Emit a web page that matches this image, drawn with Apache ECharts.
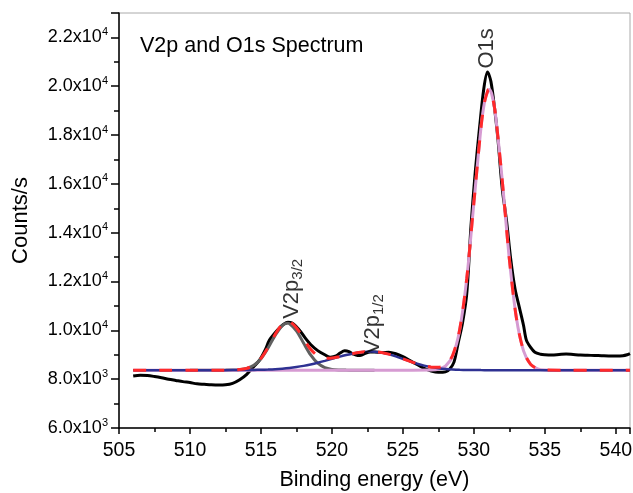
<!DOCTYPE html>
<html><head><meta charset="utf-8">
<script src="https://cdn.jsdelivr.net/npm/echarts@6/dist/echarts.min.js"></script>
<style>html,body{margin:0;padding:0;background:#fff}#c{width:633px;height:493px}</style>
</head><body><div id="c"></div>
<script>
// Measured spectrum (black)
const dataX = [506,506.5,507,507.5,508,508.5,509,509.5,510,510.5,511,511.5,512,512.5,513,513.5,514,514.5,514.9,515.3,515.6,516,516.3,516.6,516.9,517.2,517.5,517.8,518.1,518.5,519,519.5,519.9,520.3,520.6,520.9,521.2,521.5,521.8,522.1,522.4,522.7,523,523.5,524,524.5,525,525.5,526,526.5,527,527.5,528,528.3,528.6,528.9,529.2,529.5,529.8,530.1,530.4,530.7,530.96,531.2,531.5,531.7,532,532.3,532.6,532.9,533.2,533.5,533.7,534,534.3,534.7,535,535.5,536,536.5,537,537.5,538,538.5,539,539.5,540,540.5,540.8,541];
const dataY = [8130,8160,8150,8110,8060,8000,7950,7900,7860,7810,7790,7770,7760,7770,7830,7980,8200,8520,8780,9200,9600,9900,10090,10250,10330,10300,10150,9950,9700,9420,9170,9000,8900,8950,9080,9160,9130,9030,8970,8990,9070,9110,9110,9090,9100,9040,8920,8760,8600,8440,8330,8280,8300,8420,8700,9500,10300,11500,14300,16500,18300,19900,20580,20200,18900,17800,15800,14500,12900,11700,10950,10200,9600,9300,9100,9020,9000,8990,9010,9030,9010,8990,8980,8970,8960,8950,8950,8960,9000,9050];
// V2p3/2 component (gray)
const grayX = [510,511,512,512.5,513,513.5,514,514.5,515,515.5,516,516.5,516.85,517,517.5,518,518.5,519,519.5,520,520.5,521,521.5,522,523];
const grayY = [8370,8370,8370,8371,8374,8389,8437,8566,8837,9275,9794,10196,10290,10273,9982,9482,8994,8655,8475,8402,8378,8372,8370,8370,8370];
// V2p1/2 component (blue)
const blueX = [506,508,510,512,513,514,514.5,515,515.5,516,516.5,517,517.5,518,518.5,519,519.5,520,520.5,521,521.5,522,522.5,522.8,523,523.5,524,524.5,525,525.5,526,526.5,527,527.5,528,528.5,529,529.5,530,530.5,531,533,536,541];
const blueY = [8370,8370,8370,8370,8372,8375,8379,8386,8396,8410,8431,8459,8497,8545,8604,8673,8750,8831,8913,8988,9053,9100,9126,9130,9127,9093,9025,8934,8831,8728,8634,8555,8493,8448,8417,8397,8384,8377,8373,8371,8370,8370,8370,8370];
// O1s component (pink)
const pinkX = [506,510,515,520,525,527,527.5,528,528.5,529,529.5,530,530.5,530.75,531,531.07,531.25,531.5,532,532.5,533,533.5,534,534.5,535,536,541];
const pinkY = [8370,8370,8370,8370,8370,8376,8406,8531,8945,10018,12130,15213,18295,19348,19845,19870,19702,18944,16141,12921,10494,9160,8604,8426,8380,8370,8370];
// Envelope fit (red dashed)
const fitX = [506,508,510,512,512.5,513,513.5,514,514.5,515,515.5,516,516.5,516.85,517,517.5,518,518.5,519,519.5,520,520.5,521,521.5,522,522.5,522.8,523,523.5,524,524.5,525,525.5,526,526.5,527,527.5,528,528.5,529,529.5,530,530.5,530.75,531,531.07,531.25,531.5,532,532.5,533,533.5,534,534.5,535,536,541];
const fitY = [8370,8370,8370,8370,8371,8376,8392,8442,8575,8853,9301,9834,10257,10370,10362,10109,9657,9228,8958,8855,8863,8921,8990,9053,9100,9126,9130,9127,9093,9025,8934,8831,8728,8634,8555,8493,8484,8578,8972,10032,12137,15216,18296,19348,19845,19870,19702,18944,16141,12921,10494,9160,8604,8426,8380,8370,8370];
// Peak annotations
const annX = [517.15, 522.9, 530.9];
const annY = [11700, 10250, 21550];
const annText = ['{a|V2p}{s|3/2}', '{a|V2p}{s|1/2}', '{a|O1s}'];
const xTicks = [505,510,515,520,525,530,535,540];

const FONT = 'Liberation Sans, Arial, Helvetica, sans-serif';
const pairs = (xs, ys) => xs.map((x, i) => [x, ys[i]]);
function sci(v) {
  if (v > 22000) return '';
  const e = Math.floor(Math.log10(v) + 1e-9);
  const m = (v / Math.pow(10, e)).toFixed(1);
  return '{m|' + m + 'x10}{e|' + e + '}';
}
const chart = echarts.init(document.getElementById('c'), null, {renderer: 'canvas'});
chart.setOption({
  animation: false,
  backgroundColor: '#fff',
  title: {text: 'V2p and O1s Spectrum', left: 135, top: 30,
    textStyle: {fontFamily: FONT, fontSize: 21.5, fontWeight: 'normal', color: '#000'}},
  grid: {left: 119, right: 3, top: 13, bottom: 65, show: true, borderColor: '#aaaaaa', borderWidth: 1,
    containLabel: false, outerBoundsMode: 'none'},
  xAxis: {type: 'value', min: 505, max: 541, interval: 5,
    name: 'Binding energy (eV)', nameLocation: 'middle', nameGap: 41,
    nameTextStyle: {fontFamily: FONT, fontSize: 21.5, color: '#000'},
    axisLine: {lineStyle: {color: '#000', width: 1.5}},
    axisTick: {length: 6, lineStyle: {color: '#000', width: 1.5}},
    minorTick: {show: true, splitNumber: 2, length: 4, lineStyle: {color: '#000', width: 1.5}},
    splitLine: {show: false},
    axisLabel: {fontFamily: FONT, fontSize: 19.5, color: '#000', margin: 13,
      formatter: v => (xTicks.indexOf(v) >= 0 ? String(v) : '')}},
  yAxis: {type: 'value', min: 6000, max: 23000, interval: 2000,
    name: 'Counts/s', nameLocation: 'middle', nameGap: 87, nameRotate: 90,
    nameTextStyle: {fontFamily: FONT, fontSize: 22, color: '#000'},
    axisLine: {show: true, lineStyle: {color: '#000', width: 1.5}},
    axisTick: {length: 8, lineStyle: {color: '#000', width: 1.5}},
    minorTick: {show: true, splitNumber: 2, length: 5, lineStyle: {color: '#000', width: 1.5}},
    splitLine: {show: false},
    axisLabel: {fontFamily: FONT, color: '#000', margin: 11, formatter: sci,
      rich: {m: {fontFamily: FONT, fontSize: 18, color: '#000'},
             e: {fontFamily: FONT, fontSize: 11, color: '#000', verticalAlign: 'top', padding: [0, 0, 11, 0]}}}},
  series: [
    {type: 'line', data: pairs(dataX, dataY), showSymbol: false, smooth: 0.3, z: 1,
      lineStyle: {color: '#000', width: 3}},
    {type: 'line', data: pairs(grayX, grayY), showSymbol: false, smooth: 0.3, z: 2,
      lineStyle: {color: '#606060', width: 3}},
    {type: 'line', data: pairs(pinkX, pinkY), showSymbol: false, smooth: 0.3, z: 3,
      lineStyle: {color: '#d69bd2', width: 3}},
    {type: 'line', data: pairs(blueX, blueY), showSymbol: false, smooth: 0.3, z: 4,
      lineStyle: {color: '#2e3192', width: 2.5}},
    {type: 'line', data: pairs(fitX, fitY), showSymbol: false, smooth: 0.3, z: 5,
      lineStyle: {color: '#ff2a2a', width: 3, type: [13, 13]}},
    {type: 'scatter', symbolSize: 0, z: 6, silent: true,
      data: annX.map((x, i) => ({value: [x, annY[i]], label: {formatter: annText[i]}})),
      label: {show: true, position: 'inside', rotate: 90, color: '#000',
        rich: {a: {fontFamily: FONT, fontSize: 22, color: '#000'},
               s: {fontFamily: FONT, fontSize: 15, color: '#000', verticalAlign: 'bottom', padding: [12, 0, 0, 0]}}}}
  ]
});
</script></body></html>
